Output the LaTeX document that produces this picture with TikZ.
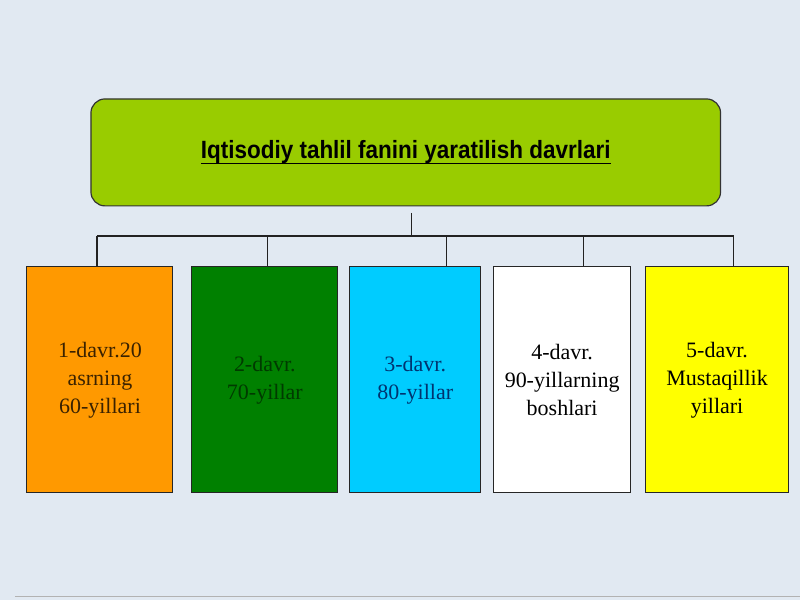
\documentclass[tikz,border=0pt]{standalone}
\usepackage{fontspec}
\setmainfont{Liberation Serif}
\newfontfamily\titlefont[FakeStretch=0.9]{Liberation Sans}
\newcommand\myul[1]{\setbox0\hbox{#1}\rlap{\vrule height -4pt depth 5.4pt width \wd0}\box0}
\definecolor{bgc}{HTML}{E1E9F2}
\definecolor{titlegreen}{HTML}{99CC00}
\definecolor{orangebox}{HTML}{FF9900}
\definecolor{greenbox}{HTML}{008000}
\definecolor{cyanbox}{HTML}{00CCFF}
\definecolor{yellowbox}{HTML}{FFFF00}
\definecolor{txtbrown}{HTML}{3A2200}
\definecolor{txtgreen}{HTML}{003A00}
\definecolor{txtblue}{HTML}{00336F}
\definecolor{linec}{HTML}{222222}
\begin{document}
\begin{tikzpicture}[x=1pt,y=-1pt,
  titlebox/.style={draw=black!80, line width=1.2pt, fill=titlegreen, rounded corners=14pt,
    minimum width=630pt, minimum height=107pt, inner sep=0pt,
    font=\titlefont\bfseries\fontsize{25}{30}\selectfont},
  periodbox/.style={draw=black!85, line width=1pt, minimum height=226pt, inner sep=0pt,
    align=center, font=\fontsize{22}{28}\selectfont},
  conn/.style={draw=linec, line width=1.3pt}]
\fill[bgc] (0,0) rectangle (800,600);
\draw[gray!60, line width=1pt] (15,597) -- (800,597);

\node[titlebox] (title) at (406,152.5) {\myul{Iqtisodiy tahlil fanini yaratilish davrlari}};

\node[periodbox, fill=orangebox, minimum width=146pt, text=txtbrown] (b1) at (100,380)
  {1-davr.20\\asrning\\60-yillari};
\node[periodbox, fill=greenbox, minimum width=146pt, text=txtgreen] (b2) at (265,380)
  {2-davr.\\70-yillar};
\node[periodbox, fill=cyanbox, minimum width=131pt, text=txtblue] (b3) at (415.5,380)
  {3-davr.\\80-yillar};
\node[periodbox, fill=white, minimum width=137pt, text=black] (b4) at (562.5,380)
  {4-davr.\\90-yillarning\\boshlari};
\node[periodbox, fill=yellowbox, minimum width=143pt, text=black] (b5) at (717.5,380)
  {5-davr.\\Mustaqillik\\yillari};

\coordinate (stem) at (412,213);
\coordinate (bus) at (412,236);
\coordinate (j1) at (97,236);
\coordinate (j2) at (268,236);
\coordinate (j3) at (447,236);
\coordinate (j4) at (584,236);
\coordinate (j5) at (734,236);

\draw[conn] (stem) -- (bus);
\draw[conn] (j1) -- (j5);
\draw[conn] (j1) -- (j1 |- b1.north);
\draw[conn] (j2) -- (j2 |- b2.north);
\draw[conn] (j3) -- (j3 |- b3.north);
\draw[conn] (j4) -- (j4 |- b4.north);
\draw[conn] (j5) -- (j5 |- b5.north);
\end{tikzpicture}
\end{document}
